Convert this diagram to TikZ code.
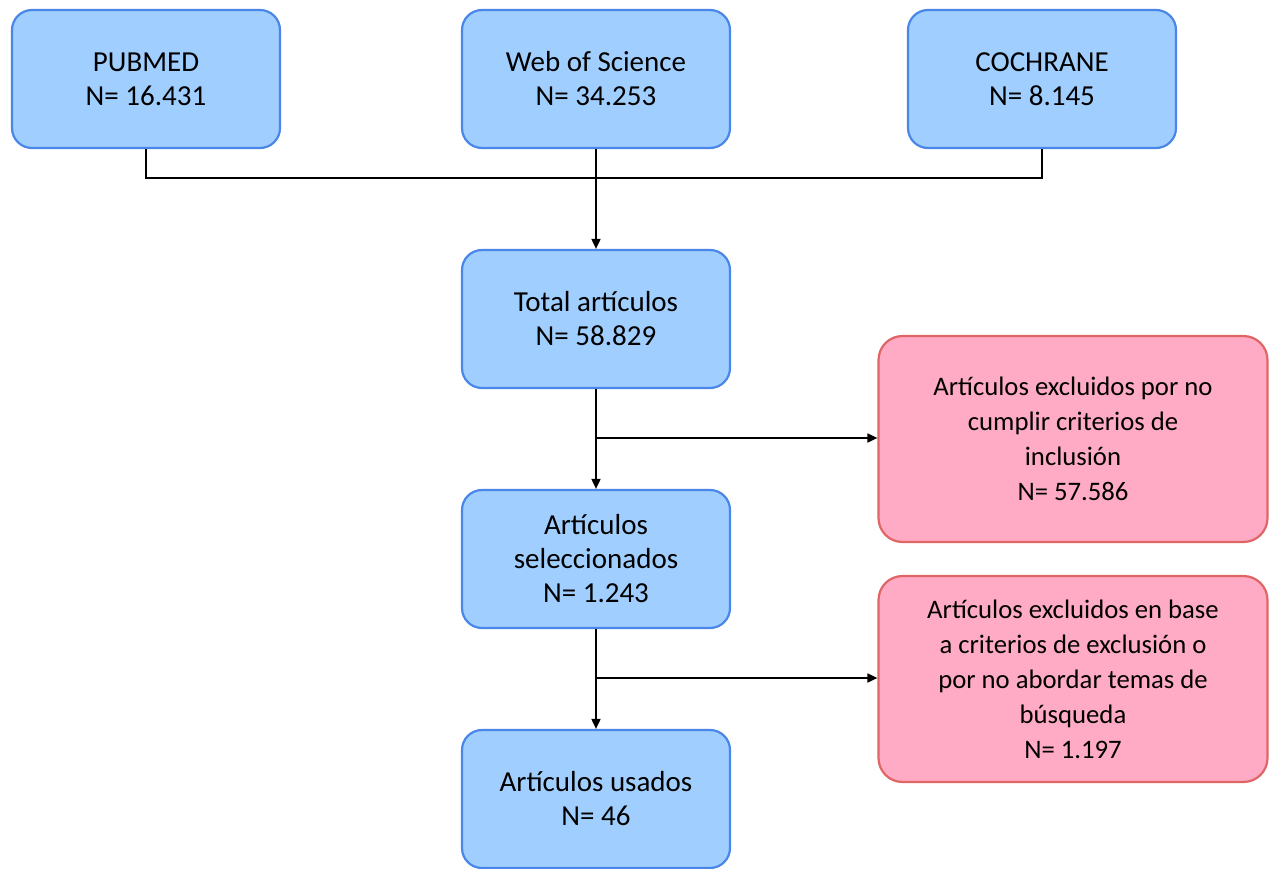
\documentclass[tikz,border=0pt]{standalone}
\usepackage{fontspec}
\setmainfont{Carlito}
\usetikzlibrary{arrows.meta}
\definecolor{bfill}{RGB}{160,207,255}
\definecolor{bdraw}{RGB}{74,134,232}
\definecolor{rfill}{RGB}{255,171,198}
\definecolor{rdraw}{RGB}{224,102,102}
\tikzset{
  bluebox/.style={draw=bdraw, fill=bfill, line width=2.2pt, rounded corners=20pt,
    minimum width=268pt, minimum height=138pt, align=center, inner sep=0pt,
    font=\fontsize{29}{34}\selectfont},
  redbox/.style={draw=rdraw, fill=rfill, line width=2.2pt, rounded corners=24pt,
    minimum width=389pt, minimum height=206pt, align=center, inner sep=0pt,
    font=\fontsize{26.7}{35}\selectfont},
  conn/.style={line width=1.8pt, black},
  arr/.style={conn, -{Triangle[length=10pt,width=9pt]}}
}
\begin{document}
\begin{tikzpicture}[x=1pt,y=-1pt]
\useasboundingbox (0,0) rectangle (1272,868);
\node[bluebox] (pub) at (146,79) {PUBMED\\N= 16.431};
\node[bluebox] (wos) at (596,79) {Web of Science\\N= 34.253};
\node[bluebox] (coc) at (1042,79) {COCHRANE\\N= 8.145};
\node[bluebox] (tot) at (596,319) {Total artículos\\N= 58.829};
\node[bluebox] (sel) at (596,559) {Artículos\\seleccionados\\N= 1.243};
\node[bluebox] (usa) at (596,799) {Artículos usados\\N= 46};
\node[redbox] (ex1) at (1073,439) {Artículos excluidos por no\\cumplir criterios de\\inclusión\\N= 57.586};
\node[redbox] (ex2) at (1073,679) {Artículos excluidos en base\\a criterios de exclusión o\\por no abordar temas de\\búsqueda\\N= 1.197};
\coordinate (jl) at (146,178);
\coordinate (jr) at (1042,178);
\coordinate (b1) at (596,438);
\coordinate (b2) at (596,678);
\draw[conn] (pub.south) -- (jl) -- (jr) -- (coc.south);
\draw[arr] (wos.south) -- (tot.north);
\draw[arr] (tot.south) -- (sel.north);
\draw[arr] (b1) -- (ex1.west|-b1);
\draw[arr] (sel.south) -- (usa.north);
\draw[arr] (b2) -- (ex2.west|-b2);
\end{tikzpicture}
\end{document}
